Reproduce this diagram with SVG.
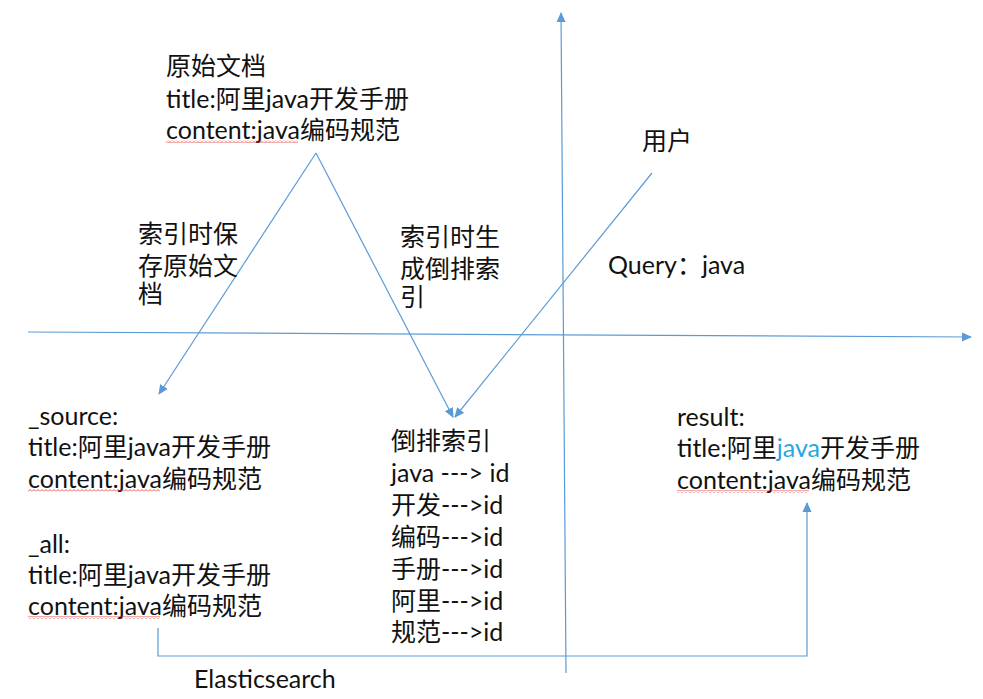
<svg xmlns="http://www.w3.org/2000/svg" width="983" height="699" viewBox="0 0 983 699">
<style>
  .t { font-family: "Lato", "Noto Sans CJK SC", sans-serif; font-size: 25px; fill: #111; }
  .hl { fill: #2AA7DD; }
  .ln { fill: none; stroke: #5B9BD5; stroke-width: 1.2; }
  .sq { fill: url(#squiggle); }
</style>
<defs>
  <marker id="ah" viewBox="0 0 10 10" refX="9" refY="5" markerWidth="10" markerHeight="10" markerUnits="userSpaceOnUse" orient="auto">
    <path d="M0,0.5 L10,5 L0,9.5 Z" fill="#5B9BD5"/>
  </marker>
  <pattern id="squiggle" x="0" y="0" width="4" height="3" patternUnits="userSpaceOnUse">
    <path d="M0,2.5 L2,0.5 L4,2.5" fill="none" stroke="#E03030" stroke-width="0.8"/>
  </pattern>
</defs>

<g id="connectors">
  <line class="ln" x1="28" y1="332" x2="971" y2="337" marker-end="url(#ah)"/>
  <line class="ln" x1="566" y1="673" x2="561" y2="13" marker-end="url(#ah)"/>
  <line class="ln" x1="316" y1="153" x2="159" y2="394" marker-end="url(#ah)"/>
  <line class="ln" x1="316" y1="153" x2="453" y2="417" marker-end="url(#ah)"/>
  <line class="ln" x1="652" y1="173" x2="455" y2="417" marker-end="url(#ah)"/>
  <polyline class="ln" points="158,628 158,656 807,656 807,503" marker-end="url(#ah)"/>
</g>

<g id="original-doc">
  <text class="t" x="166" y="75">原始文档</text>
  <text class="t" x="166" y="108">title:阿里java开发手册</text>
  <text class="t" x="166" y="139">content:java编码规范</text>
  <rect class="sq" x="166" y="140" width="132" height="3"/>
</g>

<g id="label-save-source">
  <text class="t" x="138" y="243">索引时保</text>
  <text class="t" x="138" y="275">存原始文</text>
  <text class="t" x="138" y="303">档</text>
</g>

<g id="label-build-index">
  <text class="t" x="400" y="246">索引时生</text>
  <text class="t" x="400" y="278">成倒排索</text>
  <text class="t" x="400" y="306">引</text>
</g>

<g id="user">
  <text class="t" x="642" y="150">用户</text>
</g>

<g id="query">
  <text class="t" x="608" y="274">Query：java</text>
</g>

<g id="source-all">
  <text class="t" x="28" y="425">_source:</text>
  <text class="t" x="28" y="456">title:阿里java开发手册</text>
  <text class="t" x="28" y="488">content:java编码规范</text>
  <rect class="sq" x="28" y="489" width="132" height="3"/>
  <text class="t" x="28" y="553">_all:</text>
  <text class="t" x="28" y="584">title:阿里java开发手册</text>
  <text class="t" x="28" y="615">content:java编码规范</text>
  <rect class="sq" x="28" y="616" width="132" height="3"/>
</g>

<g id="inverted-index">
  <text class="t" x="391" y="450">倒排索引</text>
  <text class="t" x="391" y="482">java ---&gt; id</text>
  <text class="t" x="391" y="514">开发---&gt;id</text>
  <text class="t" x="391" y="546">编码---&gt;id</text>
  <text class="t" x="391" y="578">手册---&gt;id</text>
  <text class="t" x="391" y="610">阿里---&gt;id</text>
  <text class="t" x="391" y="641">规范---&gt;id</text>
</g>

<g id="result">
  <text class="t" x="677" y="426">result:</text>
  <text class="t" x="677" y="457">title:阿里<tspan class="hl">java</tspan>开发手册</text>
  <text class="t" x="677" y="489">content:java编码规范</text>
  <rect class="sq" x="677" y="490" width="132" height="3"/>
</g>

<g id="elasticsearch">
  <text class="t" x="194" y="688">Elasticsearch</text>
</g>
</svg>
